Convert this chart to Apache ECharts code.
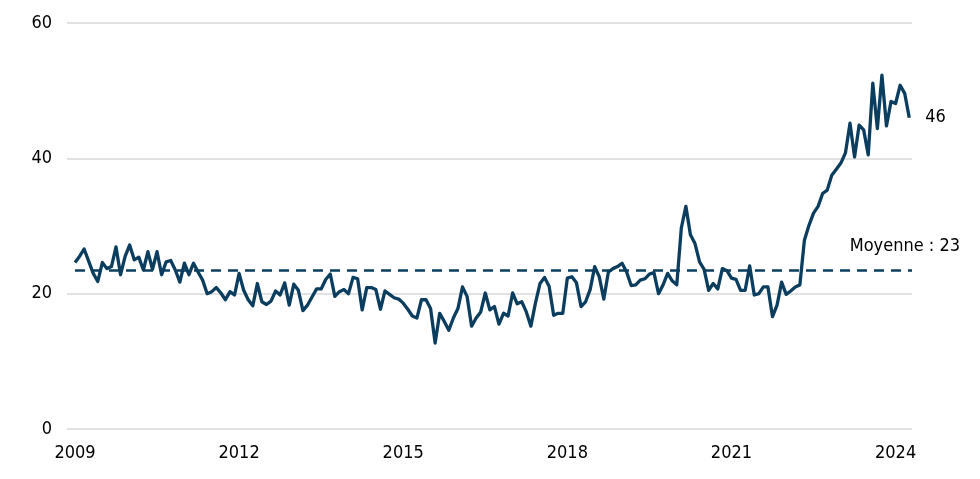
<!DOCTYPE html>
<html>
<head>
<meta charset="utf-8">
<script src="https://cdn.jsdelivr.net/npm/echarts@6/dist/echarts.min.js"></script>
<style>html,body{margin:0;padding:0;background:#fff}#c{width:980px;height:479px}</style>
</head>
<body>
<div id="c"></div>
<script>
// Monthly series, Jan 2009 .. Apr 2024
const startYear = 2009;
const values = [
24.6,25.5,26.6,24.8,23.0,21.8,24.6,23.7,24.0,26.9,22.8,25.5,
27.2,25.0,25.4,23.5,26.2,23.6,26.2,22.8,24.7,24.9,23.5,21.7,
24.5,22.8,24.5,23.2,22.0,20.0,20.3,20.9,20.1,19.1,20.3,19.8,
23.0,20.5,19.1,18.2,21.5,18.8,18.4,18.9,20.4,19.8,21.6,18.3,
21.4,20.5,17.5,18.3,19.5,20.7,20.7,22.1,22.9,19.6,20.3,20.6,
20.0,22.4,22.2,17.6,20.9,20.9,20.6,17.7,20.4,19.9,19.4,19.2,
18.6,17.7,16.7,16.4,19.1,19.1,17.8,12.7,17.1,15.9,14.6,16.4,
17.8,21.0,19.6,15.2,16.4,17.3,20.1,17.6,18.1,15.5,17.1,16.7,
20.1,18.5,18.8,17.3,15.2,18.6,21.5,22.4,21.1,16.8,17.1,17.1,
22.3,22.5,21.6,18.1,18.8,20.6,24.0,22.5,19.2,23.2,23.7,24.0,
24.5,23.2,21.2,21.3,22.0,22.2,22.9,23.1,20.0,21.3,23.0,21.9,
21.3,29.7,32.9,28.7,27.4,24.7,23.6,20.5,21.5,20.7,23.7,23.4,
22.3,22.1,20.5,20.5,24.1,19.8,20.0,21.0,21.0,16.6,18.3,21.7,
19.9,20.4,21.0,21.3,27.9,30.1,31.9,32.9,34.8,35.3,37.5,38.4,
39.3,40.8,45.2,40.2,44.9,44.2,40.5,51.1,44.4,52.3,44.8,48.4,
48.1,50.8,49.6,46.0
];
const tickYears = [2009, 2012, 2015, 2018, 2021, 2024];
const yTicks = [0, 20, 40, 60];
const averageValue = 23.4;
const averageLabel = 'Moyenne : 23';

const seriesData = values.map((v, i) => [i, v]);
const tickIdx = tickYears.map(y => (y - startYear) * 12);

const FONT = '"DejaVu Sans Condensed", "DejaVu Sans", sans-serif';
const LINE = '#0b3d5f';

const chart = echarts.init(document.getElementById('c'), null, {renderer: 'canvas'});
chart.setOption({
  animation: false,
  backgroundColor: '#fff',
  grid: {left: 67, right: 68, top: 23, bottom: 50, containLabel: false},
  xAxis: {
    type: 'value',
    min: -1.75,
    max: values.length - 1 + 0.6,
    axisLine: {show: false},
    axisTick: {show: false},
    splitLine: {show: false},
    axisLabel: {
      customValues: tickIdx,
      formatter: v => String(startYear + Math.round(v / 12)),
      color: '#000', fontFamily: FONT, fontSize: 18, margin: 15
    }
  },
  yAxis: {
    type: 'value',
    min: yTicks[0], max: yTicks[yTicks.length - 1], interval: 20,
    axisLine: {show: false},
    axisTick: {show: false},
    splitLine: {show: true, lineStyle: {color: '#d9d9d9', width: 1.5}},
    axisLabel: {color: '#000', fontFamily: FONT, fontSize: 18, margin: 15}
  },
  series: [{
    type: 'line',
    data: seriesData,
    showSymbol: false,
    symbol: 'none',
    lineStyle: {color: LINE, width: 3.3, join: 'round'},
    endLabel: {
      show: true,
      formatter: p => String(Math.round(p.value[1])),
      color: '#000', fontFamily: FONT, fontSize: 18, distance: 16
    },
    markLine: {
      silent: true,
      symbol: ['none', 'none'],
      lineStyle: {color: LINE, type: [10, 7], width: 2.5},
      label: {
        show: true,
        position: 'insideEndTop',
        formatter: averageLabel,
        color: '#000', fontFamily: FONT, fontSize: 18,
        distance: [-48, 15]
      },
      data: [[{coord: [0, averageValue]}, {coord: [values.length - 1 + 0.6, averageValue]}]]
    }
  }]
});
</script>
</body>
</html>
